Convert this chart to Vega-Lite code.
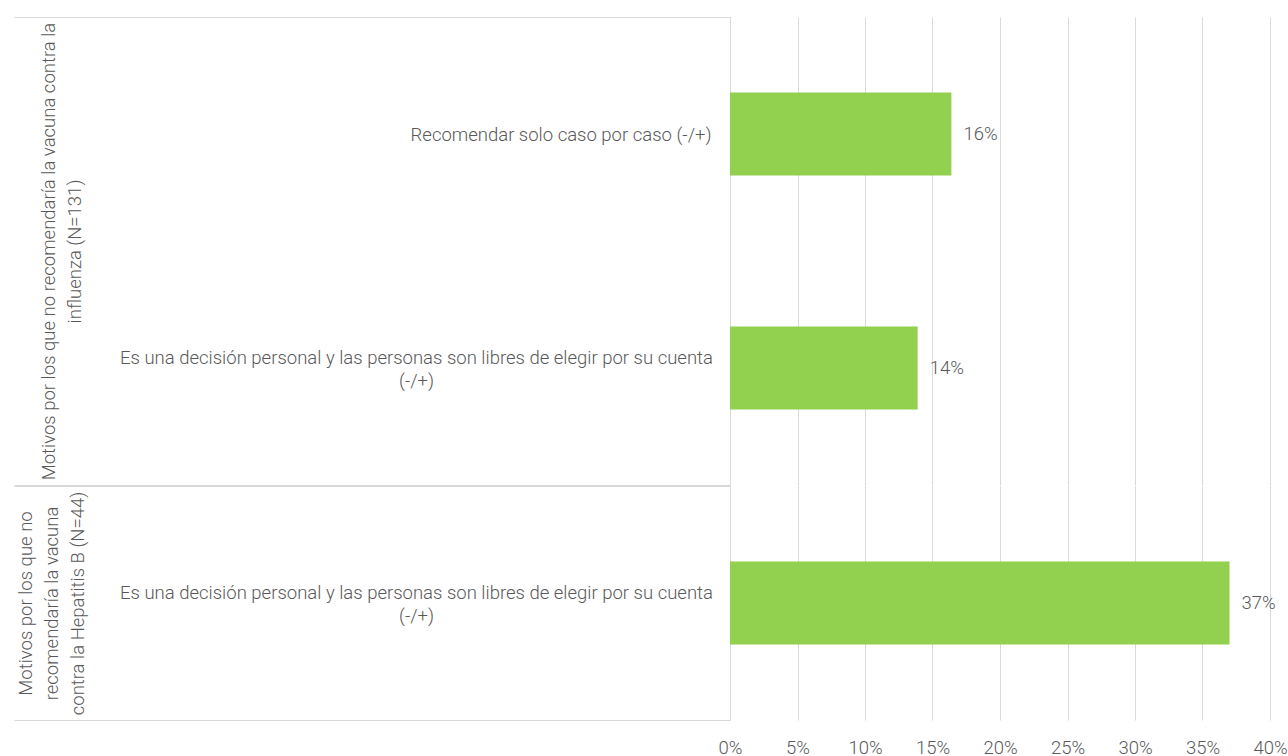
{
  "$schema": "https://vega.github.io/schema/vega-lite/v6.json",
  "autosize": {"type": "pad"},
  "padding": {"left": 13, "top": 16, "right": 1, "bottom": 0},
  "background": "#ffffff",
  "config": {
    "font": "Roboto",
    "view": {"stroke": null},
    "axis": {
      "labelFont": "Roboto",
      "labelFontWeight": 300,
      "labelColor": "#595959",
      "labelFontSize": 18.5,
      "titleFont": "Roboto",
      "titleFontWeight": 300,
      "titleColor": "#595959",
      "titleFontSize": 18.5,
      "gridColor": "#d9d9d9",
      "domainColor": "#d9d9d9",
      "tickColor": "#d9d9d9"
    }
  },
  "datasets": {
    "influenza": [
      {"fila": "A1|Recomendar solo caso por caso (-/+)", "orden": 1, "porcentaje": 0.164},
      {"fila": "A2|Es una decisión personal y las personas son libres de elegir por su cuenta|(-/+)", "orden": 2, "porcentaje": 0.139}
    ],
    "hepatitis": [
      {"fila": "B1|Es una decisión personal y las personas son libres de elegir por su cuenta|(-/+)", "orden": 1, "porcentaje": 0.37}
    ]
  },
  "spacing": -3,
  "vconcat": [
    {
      "data": {"name": "influenza"},
      "width": 540,
      "height": 468,
      "encoding": {
        "y": {
          "field": "fila",
          "type": "nominal",
          "sort": {"field": "orden", "op": "min"},
          "scale": {"paddingInner": 0, "paddingOuter": 0},
          "axis": {
            "title": ["Motivos por los que no recomendaría la vacuna contra la", "influenza (N=131)"],
            "titleX": -672,
            "titleAngle": 270,
            "titleBaseline": "bottom",
            "titleAlign": "center",
            "titleLineHeight": 26,
            "labelExpr": "slice(split(datum.value, '|'), 1)",
            "labelLimit": 0,
            "labelLineHeight": 23,
            "labelFontSize": {"condition": {"test": "datum.label == ''", "value": 0}, "value": 18.5},
            "labelAlign": {"condition": {"test": "length(split(datum.value, '|')) > 2", "value": "center"}, "value": "right"},
            "labelPadding": {"condition": {"test": "length(split(datum.value, '|')) > 2", "value": -402}, "value": -697},
            "labelOffset": {"condition": {"test": "length(split(datum.value, '|')) > 2", "value": -11}, "value": 0},
            "tickBand": "extent",
            "tickSize": 716,
            "tickOpacity": {"condition": {"test": "datum.value == 'A1|Recomendar solo caso por caso (-/+)'", "value": 0}, "value": 1},
            "domain": true,
            "grid": false
          }
        },
        "x": {
          "field": "porcentaje",
          "type": "quantitative",
          "scale": {"domain": [0, 0.4]},
          "axis": {
            "title": null,
            "grid": true,
            "labels": false,
            "ticks": false,
            "domain": false,
            "values": [0, 0.05, 0.1, 0.15, 0.2, 0.25, 0.3, 0.35, 0.4]
          }
        }
      },
      "layer": [
        {"mark": {"type": "bar", "color": "#92D050", "height": {"band": 0.355}}},
        {
          "mark": {"type": "text", "align": "left", "baseline": "middle", "dx": 12, "font": "Roboto", "fontWeight": 300, "fontSize": 18.5, "color": "#595959"},
          "encoding": {"text": {"field": "porcentaje", "type": "quantitative", "format": ".0%"}}
        }
      ]
    },
    {
      "data": {"name": "hepatitis"},
      "width": 540,
      "height": 234,
      "encoding": {
        "y": {
          "field": "fila",
          "type": "nominal",
          "sort": {"field": "orden", "op": "min"},
          "scale": {"paddingInner": 0, "paddingOuter": 0},
          "axis": {
            "title": ["Motivos por los que no", "recomendaría la vacuna", "contra la Hepatitis B (N=44)"],
            "titleX": -695,
            "titleAngle": 270,
            "titleBaseline": "bottom",
            "titleAlign": "center",
            "titleLineHeight": 26,
            "labelExpr": "slice(split(datum.value, '|'), 1)",
            "labelLimit": 0,
            "labelLineHeight": 23,
            "labelFontSize": {"condition": {"test": "datum.label == ''", "value": 0}, "value": 18.5},
            "labelAlign": {"condition": {"test": "length(split(datum.value, '|')) > 2", "value": "center"}, "value": "right"},
            "labelPadding": {"condition": {"test": "length(split(datum.value, '|')) > 2", "value": -402}, "value": -697},
            "labelOffset": {"condition": {"test": "length(split(datum.value, '|')) > 2", "value": -11}, "value": 0},
            "tickBand": "extent",
            "tickSize": 716,
            "domain": true,
            "grid": false
          }
        },
        "x": {
          "field": "porcentaje",
          "type": "quantitative",
          "scale": {"domain": [0, 0.4]},
          "axis": {
            "title": null,
            "grid": true,
            "labels": true,
            "labelFlush": false,
            "ticks": false,
            "domain": false,
            "format": ".0%",
            "labelPadding": 18,
            "values": [0, 0.05, 0.1, 0.15, 0.2, 0.25, 0.3, 0.35, 0.4]
          }
        }
      },
      "layer": [
        {"mark": {"type": "bar", "color": "#92D050", "height": {"band": 0.355}}},
        {
          "mark": {"type": "text", "align": "left", "baseline": "middle", "dx": 12, "font": "Roboto", "fontWeight": 300, "fontSize": 18.5, "color": "#595959"},
          "encoding": {"text": {"field": "porcentaje", "type": "quantitative", "format": ".0%"}}
        }
      ]
    }
  ]
}
